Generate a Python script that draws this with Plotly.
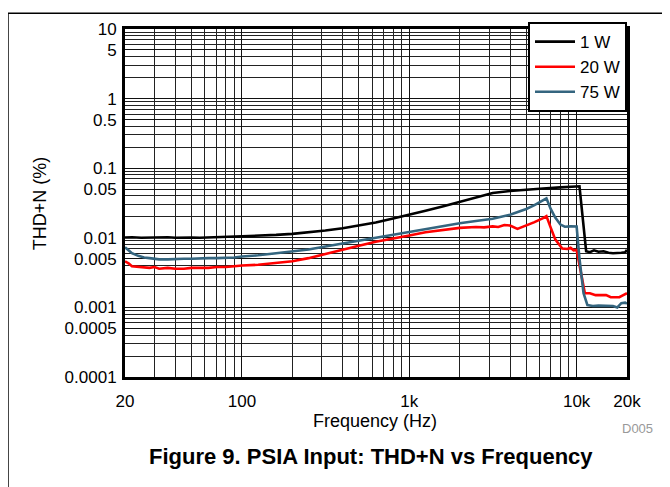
import plotly.graph_objects as go

# ---- data ----
f_1w = [20, 22, 25, 28, 32, 36, 40, 45, 50, 56, 63, 71, 80, 90, 100, 125, 160, 200, 250, 315,
        400, 500, 630, 800, 1000, 1250, 1600, 2000, 2500, 3150, 4000, 5000, 6300, 8000, 10000,
        10400, 11400, 12000, 12700, 13500, 14500, 15500, 16500, 17500, 18500, 19500, 20000]
thd_1w = [0.0101, 0.0102, 0.0100, 0.0101, 0.0100, 0.0102, 0.0100, 0.0101, 0.0101, 0.0100, 0.0101,
          0.0101, 0.0102, 0.0103, 0.0105, 0.0107, 0.0110, 0.0114, 0.0119, 0.0127, 0.0137, 0.0150,
          0.0166, 0.0189, 0.0213, 0.0245, 0.0285, 0.0330, 0.0380, 0.0440, 0.0470, 0.0495, 0.0510,
          0.0530, 0.0540, 0.0550, 0.0064, 0.0062, 0.0066, 0.0063, 0.0064, 0.0061, 0.0060, 0.0060,
          0.0061, 0.0062, 0.0067]

f_20w = [20, 21, 22, 25, 28, 30, 32, 36, 40, 45, 50, 56, 63, 71, 80, 90, 100, 125, 160, 200, 250,
         315, 400, 500, 630, 800, 1000, 1250, 1600, 2000, 2500, 2800, 3150, 3400, 3700, 4000, 4430,
         5000, 5600, 6300, 6600, 7000, 7450, 8200, 8800, 9200, 9600, 10000, 10500, 11200, 12000,
         13000, 14000, 15000, 16000, 17000, 18000, 19000, 20000]
thd_20w = [0.0046, 0.0043, 0.0039, 0.0038, 0.0037, 0.0038, 0.0036, 0.0037, 0.0036, 0.0036, 0.0037,
           0.0037, 0.0037, 0.0038, 0.0038, 0.0039, 0.0040, 0.0041, 0.0043, 0.0046, 0.0051, 0.0059,
           0.0068, 0.0077, 0.0088, 0.0099, 0.0108, 0.0120, 0.0131, 0.0139, 0.0143, 0.0141, 0.0146,
           0.0143, 0.0153, 0.0150, 0.0134, 0.0150, 0.0168, 0.0192, 0.0205, 0.0140, 0.0095, 0.0070,
           0.0069, 0.0072, 0.0066, 0.0067, 0.0035, 0.0016, 0.0016, 0.0015, 0.0015, 0.0015, 0.0014,
           0.0014, 0.0014, 0.0015, 0.0016]

f_75w = [20, 21, 22, 24, 26, 28, 32, 36, 40, 45, 50, 56, 63, 71, 80, 90, 100, 125, 160, 200, 250,
         315, 400, 500, 630, 800, 1000, 1250, 1600, 2000, 2500, 3150, 4000, 5000, 5600, 6300, 6600,
         7000, 7450, 8000, 8500, 9200, 10000, 10400, 11000, 11600, 12500, 13500, 14500, 15500,
         16500, 17500, 18500, 19500, 20000]
thd_75w = [0.0073, 0.0066, 0.0060, 0.0055, 0.0052, 0.0051, 0.0049, 0.0049, 0.0050, 0.0050, 0.0050,
           0.0051, 0.0051, 0.0051, 0.0051, 0.0052, 0.0054, 0.0056, 0.0060, 0.0064, 0.0068, 0.0075,
           0.0083, 0.0091, 0.0100, 0.0111, 0.0121, 0.0134, 0.0150, 0.0162, 0.0174, 0.0188, 0.0215,
           0.0260, 0.0295, 0.0345, 0.0370, 0.0260, 0.0195, 0.0155, 0.0144, 0.0146, 0.0145, 0.0050,
           0.0016, 0.00108, 0.00105, 0.00106, 0.00105, 0.00106, 0.00105, 0.00100, 0.00115, 0.00117,
           0.00113]

series_names = ["1 W", "20 W", "75 W"]
series_colors = ["#000000", "#FF0000", "#34657F"]

x_tickvals = [20, 100, 1000, 10000, 20000]
x_ticktext = ["20", "100", "1k", "10k", "20k"]
y_tickvals = [0.0001, 0.0005, 0.001, 0.005, 0.01, 0.05, 0.1, 0.5, 1, 5, 10]
y_ticktext = ["0.0001", "0.0005", "0.001", "0.005", "0.01", "0.05", "0.1", "0.5", "1", "5", "10"]

x_minor = [m * 10 ** d for d in range(1, 5) for m in range(1, 10) if 20 <= m * 10 ** d <= 20000]
y_minor = [m * 10.0 ** d for d in range(-4, 1) for m in range(1, 10)] + [10]

FONT = "Arial, Liberation Sans, sans-serif"

fig = go.Figure()
for fx, fy, name, col in zip([f_1w, f_20w, f_75w], [thd_1w, thd_20w, thd_75w],
                             series_names, series_colors):
    fig.add_trace(go.Scatter(x=fx, y=fy, mode="lines", name=name,
                             line=dict(color=col, width=2.6)))

grid = dict(showgrid=True, gridcolor="#111111", gridwidth=1)

fig.update_xaxes(type="log", range=[1.30103, 4.30103],
                 tickvals=x_tickvals, ticktext=x_ticktext, ticks="",
                 ticklabelstandoff=7,
                 tickfont=dict(family=FONT, size=17, color="black"),
                 showline=True, linecolor="black", linewidth=3, mirror=True,
                 minor=dict(tickvals=x_minor, ticks="", showgrid=True,
                            gridcolor="#222222", gridwidth=1),
                 zeroline=False, **grid)
fig.update_yaxes(type="log", range=[-4, 1],
                 tickvals=y_tickvals, ticktext=y_ticktext, ticks="",
                 ticklabelstandoff=2,
                 tickfont=dict(family=FONT, size=17, color="black"),
                 showline=True, linecolor="black", linewidth=3, mirror=True,
                 minor=dict(tickvals=y_minor, ticks="", showgrid=True,
                            gridcolor="#222222", gridwidth=1),
                 zeroline=False, **grid)

# page body adds an 8px offset; figure spans x 8..670, y 8..487 of the window
fig.update_layout(
    width=662, height=479,
    margin=dict(l=117, r=43, t=15, b=110),
    paper_bgcolor="white", plot_bgcolor="white",
    font=dict(family=FONT, color="black"),
    showlegend=True,
    legend=dict(x=1, y=1.02, xanchor="right", yanchor="top",
                bgcolor="white", bordercolor="black", borderwidth=2,
                font=dict(family=FONT, size=17, color="black"),
                tracegroupgap=0, itemwidth=40,
                entrywidth=92, entrywidthmode="pixels"),
    annotations=[
        dict(text="Frequency (Hz)", x=0.498, y=-0.127, xref="paper", yref="paper",
             showarrow=False, font=dict(family=FONT, size=18, color="black"),
             xanchor="center", yanchor="middle"),
        dict(text="THD+N (%)", x=-0.169, y=0.5, xref="paper", yref="paper",
             showarrow=False, textangle=-90, font=dict(family=FONT, size=18, color="black"),
             xanchor="center", yanchor="middle"),
        dict(text="D005", x=1.02, y=-0.147, xref="paper", yref="paper",
             showarrow=False, font=dict(family=FONT, size=13, color="#999999"),
             xanchor="center", yanchor="middle"),
        dict(text="<b>Figure 9. PSIA Input: THD+N vs Frequency</b>", x=0.491, y=-0.229,
             xref="paper", yref="paper", showarrow=False,
             font=dict(family=FONT, size=22, color="black"),
             xanchor="center", yanchor="middle"),
    ],
    shapes=[
        dict(type="line", xref="paper", yref="paper", x0=-0.2331, x1=1.2, y0=1.0452, y1=1.0452,
             line=dict(color="black", width=1.5)),
        dict(type="line", xref="paper", yref="paper", x0=-0.2331, x1=-0.2331, y0=1.0452, y1=-0.4,
             line=dict(color="black", width=1.5)),
    ],
)

fig.write_html("out.html")
